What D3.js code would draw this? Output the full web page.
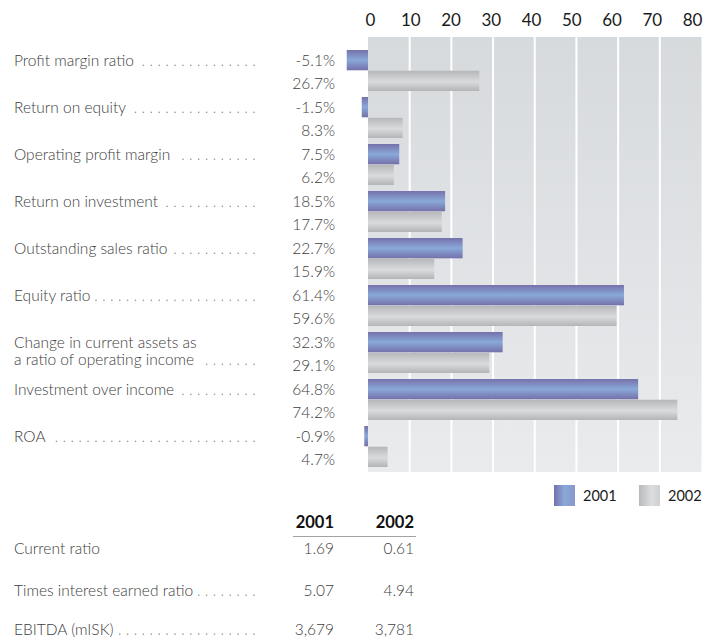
<!DOCTYPE html>
<html>
<head>
<meta charset="utf-8">
<script src="https://cdn.jsdelivr.net/npm/d3@7"></script>
<style>
  body { margin: 0; background: #fff; }
  svg text { font-family: Lato, "Open Sans", sans-serif; font-weight: 300; }
</style>
</head>
<body>
<svg id="chart" width="704" height="637"></svg>
<script>
const categories = [
  ['Profit margin ratio'],
  ['Return on equity'],
  ['Operating profit margin'],
  ['Return on investment'],
  ['Outstanding sales ratio'],
  ['Equity ratio'],
  ['Change in current assets as', 'a ratio of operating income'],
  ['Investment over income'],
  ['ROA']
];
const values2001 = [-5.1, -1.5, 7.5, 18.5, 22.7, 61.4, 32.3, 64.8, -0.9];
const values2002 = [26.7, 8.3, 6.2, 17.7, 15.9, 59.6, 29.1, 74.2, 4.7];
const years = ['2001', '2002'];
const xTicks = [0, 10, 20, 30, 40, 50, 60, 70, 80];

const tableRows = ['Current ratio', 'Times interest earned ratio', 'EBITDA (mISK)'];
const tableDots = [false, true, true];
const table2001 = ['1.69', '5.07', '3,679'];
const table2002 = ['0.61', '4.94', '3,781'];

const svg = d3.select('#chart');
const defs = svg.append('defs');

function grad(id, stops, horizontal) {
  const g = defs.append('linearGradient').attr('id', id)
    .attr('x1', 0).attr('y1', 0)
    .attr('x2', horizontal ? 1 : 0).attr('y2', horizontal ? 0 : 1);
  stops.forEach(s => g.append('stop').attr('offset', s[0]).attr('stop-color', s[1]));
}
grad('bg', [[0, '#d7dadd'], [1, '#e9ebed']]);
grad('b2001', [[0, '#7671ab'], [0.5, '#89a9d8'], [1, '#7570aa']]);
grad('b2002', [[0, '#b6b7b9'], [0.55, '#dadbdd'], [1, '#b3b4b6']]);
grad('l2001', [[0, '#7671ab'], [0.5, '#89a9d8'], [1, '#8a96c8']], true);
grad('l2002', [[0, '#b9babc'], [0.6, '#dcdddf'], [1, '#cfd0d2']], true);

const x = d3.scaleLinear().domain([0, 80]).range([368, 701.5]);
// tick labels in the source sit on a slightly tighter spacing than the grid
const xLabel = d3.scaleLinear().domain([0, 80]).range([370, 692]);
const y = d3.scaleBand().domain(d3.range(categories.length))
  .range([47, 470]).paddingInner(0.128).paddingOuter(0.064);
const ySub = d3.scaleBand().domain(years).range([0, y.bandwidth()]).paddingInner(0.02);

// plot background
svg.append('rect')
  .attr('x', x(0)).attr('y', 37)
  .attr('width', x(80) - x(0)).attr('height', 472 - 37)
  .attr('fill', 'url(#bg)');

// grid
svg.append('g').selectAll('line')
  .data(xTicks.filter(d => d > 0 && d < 80))
  .join('line')
  .attr('x1', d => x(d)).attr('x2', d => x(d))
  .attr('y1', 37).attr('y2', 472)
  .attr('stroke', '#fff').attr('stroke-width', 2);

// top axis
const axis = svg.append('g')
  .attr('transform', 'translate(0,37)')
  .call(d3.axisTop(xLabel).tickValues(xTicks).tickSize(0).tickPadding(11));
axis.select('.domain').remove();
axis.selectAll('text')
  .style('font-family', 'Lato, "Open Sans", sans-serif')
  .style('font-weight', 400)
  .attr('font-size', 17).attr('fill', '#1a1a1a');

// bars
const rows = svg.append('g').selectAll('g')
  .data(categories.map((c, i) => ({ i, v: [values2001[i], values2002[i]] })))
  .join('g')
  .attr('transform', d => `translate(0,${y(d.i)})`);

rows.selectAll('rect')
  .data(d => d.v.map((v, k) => ({ v, yr: years[k] })))
  .join('rect')
  .attr('x', d => x(Math.min(0, d.v)))
  .attr('y', d => ySub(d.yr))
  .attr('width', d => Math.abs(x(d.v) - x(0)))
  .attr('height', ySub.bandwidth())
  .attr('fill', d => d.yr === '2001' ? 'url(#b2001)' : 'url(#b2002)');

// value labels
rows.selectAll('text.val')
  .data(d => d.v.map((v, k) => ({ v, yr: years[k] })))
  .join('text')
  .attr('class', 'val')
  .attr('x', 335)
  .attr('y', d => ySub(d.yr) + ySub.bandwidth() / 2 + (d.yr === '2001' ? 6 : 8))
  .attr('text-anchor', 'end')
  .attr('font-size', 15.5).attr('fill', '#404040')
  .text(d => d.v.toFixed(1) + '%');

// leader dots on a fixed grid ending at x=254
function leaders(g, textEnd, baseline) {
  const xs = [];
  for (let px = 254; px > textEnd + 5; px -= 7.9) xs.push(px);
  g.selectAll(null).data(xs).join('rect')
    .attr('x', d => d - 0.7).attr('y', baseline - 1.5)
    .attr('width', 1.4).attr('height', 1.4)
    .attr('fill', '#999');
}

// category labels
rows.each(function(d) {
  const g = d3.select(this);
  const lines = categories[d.i];
  const base = ySub('2001') + ySub.bandwidth() / 2 + 6;
  let last;
  lines.forEach((t, k) => {
    last = g.append('text')
      .attr('x', 14).attr('y', base + k * 17)
      .attr('font-size', 15.5).attr('fill', '#404040')
      .text(t);
  });
  const end = 14 + last.node().getComputedTextLength();
  leaders(g, end, base + (lines.length - 1) * 17);
});

// legend
const legend = svg.append('g').selectAll('g')
  .data(years).join('g')
  .attr('transform', (d, i) => `translate(${554 + i * 85},485)`);
legend.append('rect')
  .attr('width', 21).attr('height', 21)
  .attr('fill', d => d === '2001' ? 'url(#l2001)' : 'url(#l2002)');
legend.append('text')
  .attr('x', 29).attr('y', 16)
  .attr('font-size', 14.5).attr('fill', '#1a1a1a')
  .style('font-weight', 400)
  .text(d => d);

// table
const colX = [334, 414];
svg.append('g').selectAll('text')
  .data(years).join('text')
  .attr('x', (d, i) => colX[i]).attr('y', 528)
  .attr('text-anchor', 'end')
  .attr('font-size', 16.5).style('font-weight', 'bold').attr('fill', '#111')
  .text(d => d);
svg.append('line')
  .attr('x1', 293).attr('x2', 416).attr('y1', 536.5).attr('y2', 536.5)
  .attr('stroke', '#9ea4a8').attr('stroke-width', 1.2);

const rowY = [554, 596, 635];
const trows = svg.append('g').selectAll('g')
  .data(tableRows.map((t, i) => ({ t, i })))
  .join('g');
trows.each(function(d) {
  const g = d3.select(this);
  const label = g.append('text')
    .attr('x', 14).attr('y', rowY[d.i])
    .attr('font-size', 15.5).attr('fill', '#404040')
    .text(d.t);
  if (tableDots[d.i]) leaders(g, 14 + label.node().getComputedTextLength(), rowY[d.i]);
  [table2001[d.i], table2002[d.i]].forEach((v, k) => {
    g.append('text')
      .attr('x', colX[k]).attr('y', rowY[d.i])
      .attr('text-anchor', 'end')
      .attr('font-size', 15.5).attr('fill', '#404040')
      .text(v);
  });
});
</script>
</body>
</html>
